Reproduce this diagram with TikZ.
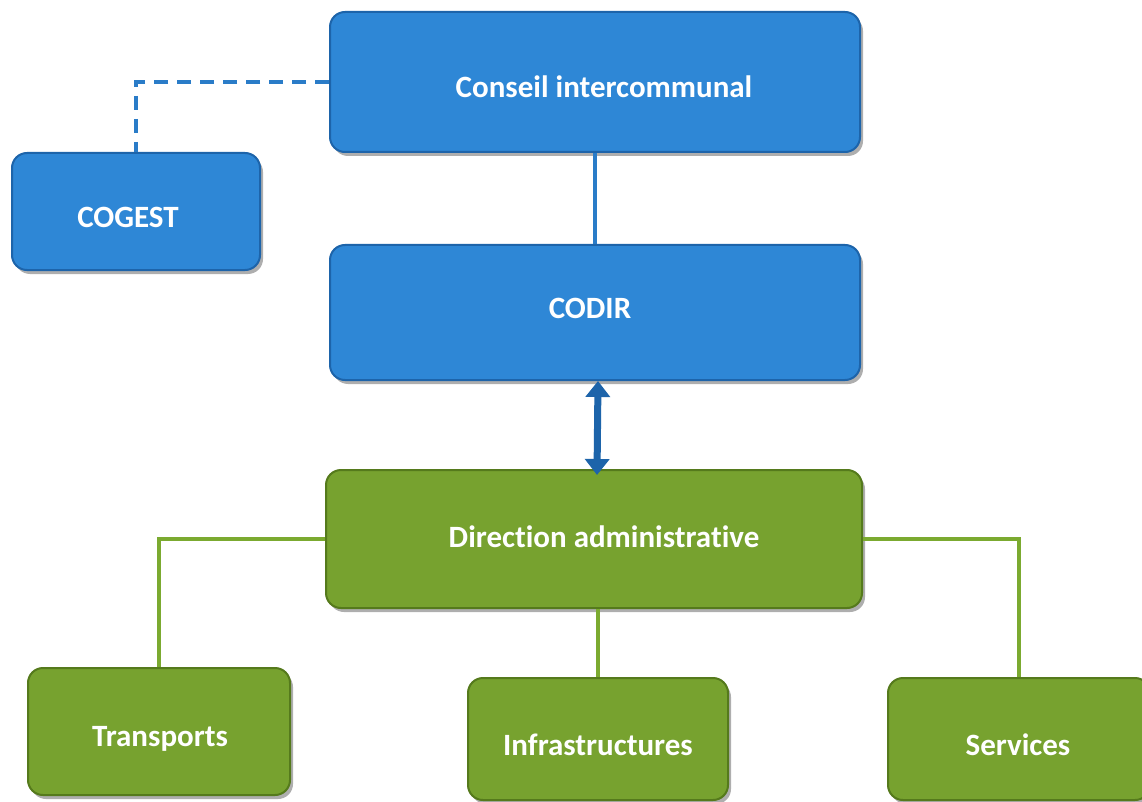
\documentclass[tikz,border=0pt]{standalone}
\usepackage{fontspec}
\setmainfont{Carlito}[Ligatures=NoCommon]
\usetikzlibrary{shadows,arrows.meta}
\definecolor{bluefill}{HTML}{2E87D6}
\definecolor{blueedge}{HTML}{1D64AA}
\definecolor{blueline}{HTML}{2A7CC8}
\definecolor{greenfill}{HTML}{77A22F}
\definecolor{greenedge}{HTML}{557A1C}
\definecolor{greenline}{HTML}{7BAA30}
% #1 = twice the horizontal shift, #2 = downward shift
\newcommand\txtshift[3]{\raisebox{\dimexpr-10pt-#2\relax}[0pt][0pt]{\kern#1\relax #3}}
\tikzset{
  box/.style={rectangle, rounded corners=15pt, line width=2pt, text=white,
    font=\fontsize{31}{34}\selectfont\bfseries, inner sep=0pt,
    drop shadow={shadow xshift=3pt, shadow yshift=-4pt, opacity=0.45, fill=black!70}},
  bluebox/.style={box, fill=bluefill, draw=blueedge},
  greenbox/.style={box, fill=greenfill, draw=greenedge},
  bconn/.style={draw=blueline, line width=3.5pt},
  gconn/.style={draw=greenline, line width=3.5pt},
}
\begin{document}
\begin{tikzpicture}[x=1pt,y=-1pt]
\useasboundingbox (0,0) rectangle (1142,802);
\fill[white] (0,0) rectangle (1142,802);
% nodes
\node[bluebox, minimum width=530pt, minimum height=140pt] (C) at (595,82) {\txtshift{18pt}{6pt}{Conseil intercommunal}};
\node[bluebox, minimum width=248pt, minimum height=117pt] (G) at (136,211.5) {\txtshift{-16pt}{6pt}{COGEST}};
\node[bluebox, minimum width=530pt, minimum height=135pt] (R) at (595,312.5) {\txtshift{-10pt}{-4pt}{CODIR}};
\node[greenbox, minimum width=536pt, minimum height=138pt] (D) at (594,539) {\txtshift{20pt}{-2pt}{Direction administrative}};
\node[greenbox, minimum width=262pt, minimum height=127pt] (T) at (159,731.5) {\txtshift{2pt}{5pt}{Transports}};
\node[greenbox, minimum width=260pt, minimum height=122pt] (I) at (598,739) {\txtshift{0pt}{6pt}{Infrastructures}};
\node[greenbox, minimum width=262pt, minimum height=122pt] (S) at (1019,739) {\txtshift{-2pt}{6pt}{Services}};
% connectors
\draw[bconn, dash pattern=on 14pt off 9pt] (C.west) -| (G.north);
\draw[bconn] (C.south) -- (R.north);
\draw[draw=blueedge, line width=7pt, {Triangle[width=24pt,length=16pt]}-{Triangle[width=24pt,length=16pt]}] ([xshift=3pt]R.south) -- ([xshift=3pt,yshift=-6pt]D.north);
\draw[gconn] (D.west) -| (T.north);
\draw[gconn] (D.east) -| (S.north);
\draw[gconn] (D.south -| I.north) -- (I.north);
\end{tikzpicture}
\end{document}
